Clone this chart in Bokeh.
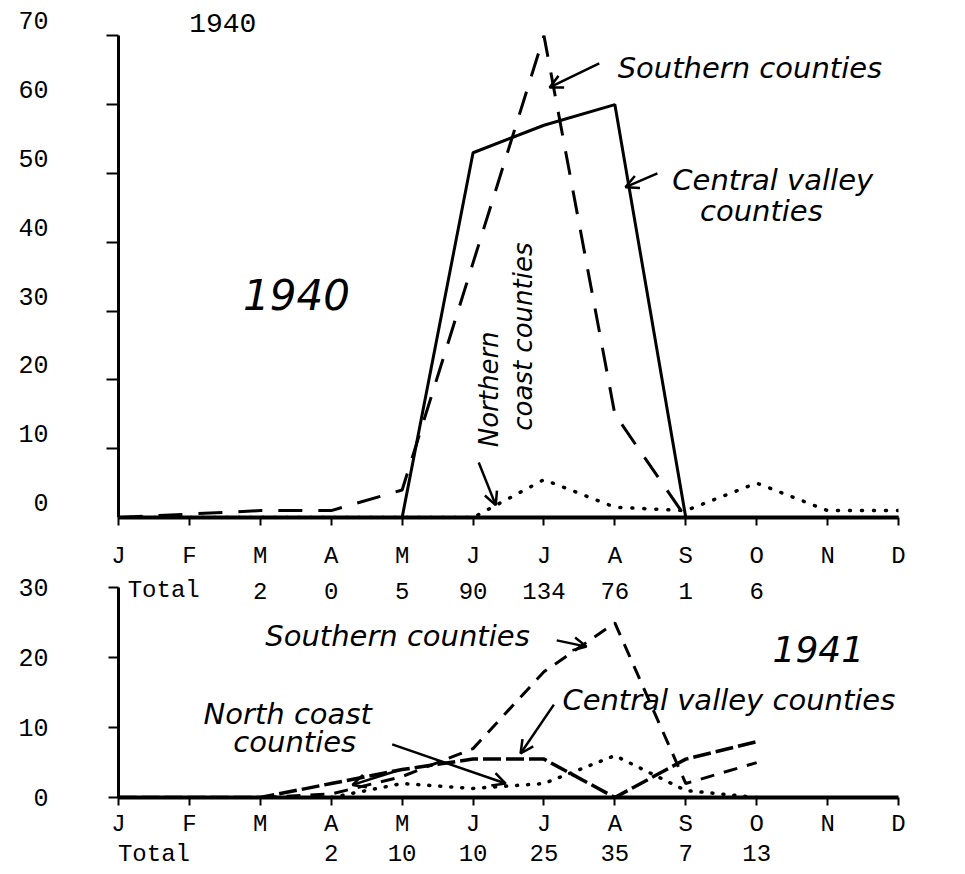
import math
from bokeh.plotting import figure
from bokeh.models import (Range1d, LinearAxis, FixedTicker, Label, LabelSet,
                          Arrow, OpenHead, ColumnDataSource)
from bokeh.layouts import column
from bokeh.embed import file_html
from bokeh.resources import INLINE
from bokeh.core.properties import value

NAN = float("nan")

# ---------------- data ----------------
months = ["J", "F", "M", "A", "M", "J", "J", "A", "S", "O", "N", "D"]
month_idx = list(range(12))

# 1940 (cases per month)
central_1940 = [0, 0, 0, 0, 0, 53, 57, 60, 0, 0, 0, 0]
southern_1940 = [0, 0.5, 1, 1, 4, 37, 70, 15, 0, 0, 0, 0]
northern_1940 = [0, 0, 0, 0, 0, 0, 5.5, 1.5, 1, 5, 1, 1]
totals_1940 = [None, None, 2, 0, 5, 90, 134, 76, 1, 6, None, None]
y_ticks_1940 = [0, 10, 20, 30, 40, 50, 60, 70]

# 1941
central_1941 = [0, 0, 0, 2, 4, 5.5, 5.5, 0, 5.5, 8, NAN, NAN]
southern_1941 = [0, 0, 0, 0.5, 3, 7, 18, 25, 2, 5, NAN, NAN]
north_1941 = [NAN, NAN, NAN, 0, 2, 1.3, 2, 6, 1, 0, NAN, NAN]
totals_1941 = [None, None, None, 2, 10, 10, 25, 35, 7, 13, None, None]
y_ticks_1941 = [0, 10, 20, 30]

# ---------------- styling ----------------
TYPE_FONT = "Liberation Mono"
HAND_FONT = "DejaVu Sans"
INK = "black"
W = 957
LEFT = 118
RIGHT = W - LEFT - 780
TYPE_SIZE = "24px"
YLAB_SIZE = "25px"


def base_fig(height, ymax, top, bottom):
    p = figure(width=W, height=height, x_range=Range1d(0, 11),
               y_range=Range1d(0, ymax), x_axis_type=None, y_axis_type=None,
               output_backend="svg", toolbar_location=None,
               min_border_left=LEFT, min_border_right=RIGHT,
               min_border_top=top, min_border_bottom=bottom)
    p.outline_line_color = None
    p.background_fill_color = "white"
    p.border_fill_color = "white"
    return p


def month_axis(standoff):
    ax = LinearAxis(ticker=FixedTicker(ticks=month_idx),
                    major_label_overrides={i: m for i, m in zip(month_idx, months)})
    ax.axis_line_color = INK
    ax.axis_line_width = 4
    ax.major_tick_line_color = INK
    ax.major_tick_line_width = 2
    ax.major_tick_out = 8
    ax.major_tick_in = 0
    ax.minor_tick_out = 0
    ax.minor_tick_in = 0
    ax.major_label_standoff = standoff
    ax.major_label_text_font = TYPE_FONT
    ax.major_label_text_font_size = TYPE_SIZE
    ax.major_label_text_color = INK
    return ax


def hand(p, x, y, text, size="29px", align="left", angle=0.0):
    p.add_layout(Label(x=x, y=y, text=text, text_font=HAND_FONT,
                       text_font_style="italic", text_font_size=size,
                       text_color=INK, text_align=align,
                       text_baseline="middle", angle=angle))


def arrow(p, x0, y0, x1, y1):
    p.add_layout(Arrow(end=OpenHead(size=13, line_width=2.5, line_color=INK),
                       x_start=x0, y_start=y0, x_end=x1, y_end=y1,
                       line_color=INK, line_width=2.5))


# ---------------- 1940 panel ----------------
TOP_MAX = 74.4
TOP_FRAME = 512
p1 = base_fig(573, TOP_MAX, 5, 56)
shift = 15 / (TOP_FRAME / TOP_MAX)    # labels sit ~15px above their ticks
p1.extra_y_ranges = {"lab": Range1d(-shift, TOP_MAX - shift)}

ya = LinearAxis(ticker=FixedTicker(ticks=y_ticks_1940[1:]), bounds=(0, 70),
                major_label_overrides={v: "" for v in y_ticks_1940})
ya.axis_line_color = INK
ya.axis_line_width = 3
ya.major_tick_line_color = INK
ya.major_tick_line_width = 2
ya.major_tick_out = 12
ya.major_tick_in = 0
ya.minor_tick_out = 0
ya.minor_tick_in = 0
ya.major_label_standoff = 0
p1.add_layout(ya, "left")

yl = LinearAxis(y_range_name="lab", ticker=FixedTicker(ticks=y_ticks_1940),
                major_label_overrides={v: str(v) for v in y_ticks_1940})
yl.axis_line_color = None
yl.major_tick_line_color = None
yl.minor_tick_line_color = None
yl.major_tick_out = 0
yl.minor_tick_out = 0
yl.major_label_standoff = 58
yl.major_label_text_font = TYPE_FONT
yl.major_label_text_font_size = YLAB_SIZE
yl.major_label_text_color = INK
p1.add_layout(yl, "left")

p1.add_layout(month_axis(17), "below")

p1.line(month_idx, central_1940, line_color=INK, line_width=3)
p1.line(month_idx, southern_1940, line_color=INK, line_width=3, line_dash="24 16")
p1.line(month_idx, northern_1940, line_color=INK, line_width=3.5,
        line_dash="1 11", line_cap="round")

p1.add_layout(Label(x=1.47, y=71.9, text="1940", text_font=TYPE_FONT,
                    text_font_size="28px", text_color=INK,
                    text_align="center", text_baseline="middle"))
hand(p1, 2.51, 32.4, "1940", size="42px", align="center")
hand(p1, 7.04, 65.3, "Southern counties")
arrow(p1, 6.78, 66.0, 6.08, 62.5)
hand(p1, 7.81, 49.0, "Central valley")
hand(p1, 8.2, 44.6, "counties")
arrow(p1, 7.6, 50.0, 7.15, 48.0)
hand(p1, 5.23, 10.2, "Northern", size="26px", angle=math.pi / 2)
hand(p1, 5.71, 12.6, "coast counties", size="26px", angle=math.pi / 2)
arrow(p1, 5.08, 8.0, 5.32, 1.8)

# ---------------- 1941 panel ----------------
BOT_MAX = 31.5
p2 = base_fig(301, BOT_MAX, 4, 77)

yb = LinearAxis(ticker=FixedTicker(ticks=y_ticks_1941), bounds=(0, 30),
                major_label_overrides={v: str(v) for v in y_ticks_1941})
yb.axis_line_color = INK
yb.axis_line_width = 3
yb.major_tick_line_color = INK
yb.major_tick_line_width = 2
yb.major_tick_out = 10
yb.major_tick_in = 0
yb.minor_tick_out = 0
yb.minor_tick_in = 0
yb.major_label_standoff = 60
yb.major_label_text_font = TYPE_FONT
yb.major_label_text_font_size = YLAB_SIZE
yb.major_label_text_color = INK
p2.add_layout(yb, "left")

p2.add_layout(month_axis(5), "below")

tot41_idx = [i for i, t in zip(month_idx, totals_1941) if t is not None]
tot41_lab = {i: str(t) for i, t in zip(month_idx, totals_1941) if t is not None}
tot41_lab[0.5] = "Total"
ta = LinearAxis(ticker=FixedTicker(ticks=[0.5] + tot41_idx),
                major_label_overrides=tot41_lab)
ta.axis_line_color = None
ta.major_tick_line_color = None
ta.minor_tick_line_color = None
ta.major_tick_out = 0
ta.minor_tick_out = 0
ta.major_label_standoff = 0
ta.major_label_text_font = TYPE_FONT
ta.major_label_text_font_size = TYPE_SIZE
ta.major_label_text_color = INK
p2.add_layout(ta, "below")

# 1940 totals row (sits level with the top of the 1941 axis)
tot40 = ColumnDataSource(dict(
    x=[i for i, t in zip(month_idx, totals_1940) if t is not None],
    y=[y_ticks_1941[-1]] * sum(t is not None for t in totals_1940),
    text=[str(t) for t in totals_1940 if t is not None]))
p2.add_layout(LabelSet(x="x", y="y", text="text", source=tot40, y_offset=-3,
                       text_font=value(TYPE_FONT), text_font_size=value(TYPE_SIZE),
                       text_color=INK, text_align="center",
                       text_baseline="middle"))
p2.add_layout(Label(x=0.13, y=y_ticks_1941[-1], y_offset=-3, text="Total",
                    text_font=TYPE_FONT, text_font_size=TYPE_SIZE,
                    text_color=INK, text_align="left", text_baseline="middle"))

p2.line(month_idx, central_1941, line_color=INK, line_width=3.5, line_dash="18 5")
p2.line(month_idx, southern_1941, line_color=INK, line_width=3, line_dash="14 10")
p2.line(month_idx, north_1941, line_color=INK, line_width=3.5,
        line_dash="1 10", line_cap="round")

hand(p2, 2.07, 23.1, "Southern counties")
arrow(p2, 6.18, 22.5, 6.6, 21.6)
hand(p2, 9.87, 21.3, "1941", size="36px", align="center")
hand(p2, 6.26, 13.9, "Central valley counties")
arrow(p2, 6.14, 13.3, 5.67, 6.3)
hand(p2, 1.2, 12.0, "North coast")
hand(p2, 1.62, 7.9, "counties")
arrow(p2, 3.86, 7.6, 5.46, 2.0)
arrow(p2, 3.95, 3.9, 3.3, 1.8)

layout = column(p1, p2, spacing=0)
open("out.html", "w").write(file_html(layout, INLINE))
